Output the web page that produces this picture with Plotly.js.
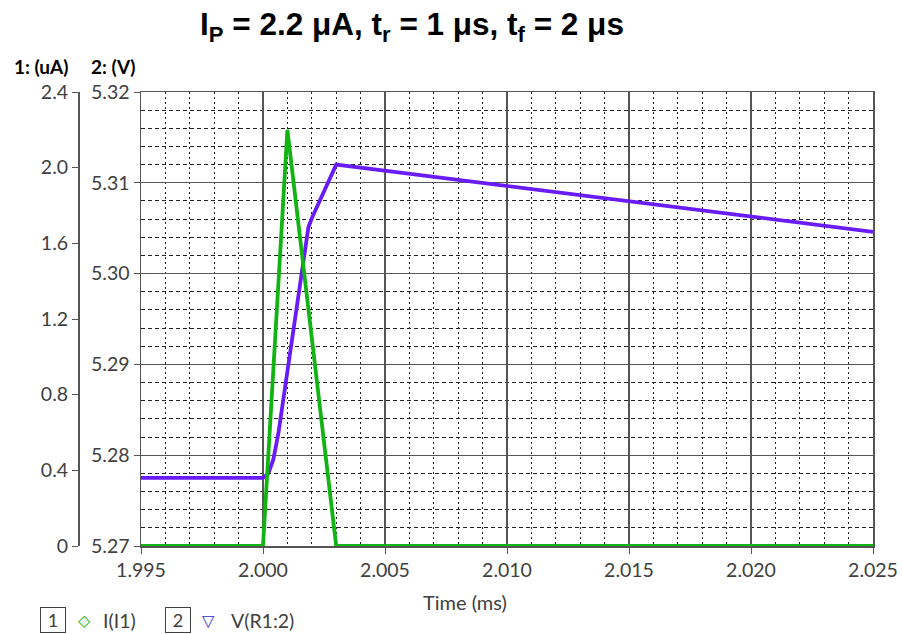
<!DOCTYPE html>
<html>
<head>
<meta charset="utf-8">
<script src="https://cdn.plot.ly/plotly-3.0.1.min.js"></script>
<style>html,body{margin:0;padding:0;background:#fff;}#chart{width:903px;height:634px;}</style>
</head>
<body>
<div id="chart"></div>
<script>
// ---- data ----
const iTime = [1.995, 2.000, 2.001, 2.003, 2.025];
const iCurrent = [0, 0, 2.2, 0, 0];           // uA
const vTime = [1.995, 2.000, 2.00022, 2.00042, 2.00063, 2.00083, 2.00104, 2.00145, 2.00186, 2.002, 2.003, 2.025];
const vVolt = [5.2775, 5.2775, 5.2780, 5.2795, 5.2824, 5.2861, 5.2905, 5.2979, 5.3051, 5.3061, 5.3120, 5.3046]; // V
const xTickVals = [1.995, 2.000, 2.005, 2.010, 2.015, 2.020, 2.025];
const xTickText = ["1.995", "2.000", "2.005", "2.010", "2.015", "2.020", "2.025"];
const iTickVals = [0, 0.4, 0.8, 1.2, 1.6, 2.0, 2.4];
const iTickText = ["0", "0.4", "0.8", "1.2", "1.6", "2.0", "2.4"];
const vTickVals = [5.27, 5.28, 5.29, 5.30, 5.31, 5.32];
const vTickText = ["5.27", "5.28", "5.29", "5.30", "5.31", "5.32"];

// ---- layout geometry (pixels) ----
const W = 903, H = 634, ML = 10, MR = 30, MT = 92, MB = 88;
const PW = W - ML - MR, PH = H - MT - MB;
const px = x => (x - ML) / PW;
const py = y => (H - MB - y) / PH;

const FAM = "Lato, 'Noto Sans', sans-serif";
const tickFont = {family: FAM, size: 19.5, color: "#404040"};
const GREEN = "#12b412", PURPLE = "#6a1cf8";

const traces = [
  {x: iTime, y: iCurrent, type: "scatter", mode: "lines", yaxis: "y2", name: "I(I1)",
   line: {color: GREEN, width: 3.8}, showlegend: false, hoverinfo: "x+y"},
  {x: vTime, y: vVolt, type: "scatter", mode: "lines", yaxis: "y", name: "V(R1:2)",
   line: {color: PURPLE, width: 3.8}, showlegend: false, hoverinfo: "x+y"}
];

function note(text, x, y, font, extra) {
  return Object.assign({text: text, xref: "paper", yref: "paper", x: px(x), y: py(y),
    xanchor: "center", yanchor: "middle", showarrow: false, font: font}, extra || {});
}

const layout = {
  width: W, height: H,
  margin: {l: ML, r: MR, t: MT, b: MB, pad: 0},
  paper_bgcolor: "#ffffff", plot_bgcolor: "#ffffff",
  showlegend: false,
  title: {
    text: "I<sub>P</sub> = 2.2 μA, t<sub>r</sub> = 1 μs, t<sub>f</sub> = 2 μs",
    font: {family: "'Liberation Sans', Arial, sans-serif", size: 31.5, color: "#000", weight: "bold"},
    xref: "container", yref: "container", x: 412 / W, y: 1 - 24 / H, xanchor: "center", yanchor: "middle"
  },
  xaxis: {
    domain: [px(141), 1], range: [1.995, 2.025],
    tickvals: xTickVals, ticktext: xTickText, tickfont: tickFont,
    showline: true, linecolor: "#555", linewidth: 1.5, mirror: true,
    ticks: "outside", ticklen: 6, tickcolor: "#555",
    showgrid: true, gridcolor: "#555", gridwidth: 1.2,
    minor: {dtick: 0.001, showgrid: true, gridcolor: "#222", gridwidth: 1, griddash: "2px,3px", ticks: ""},
    zeroline: false
  },
  yaxis: {
    range: [5.27, 5.32], anchor: "x", side: "left",
    tickvals: vTickVals, ticktext: vTickText, tickfont: tickFont,
    showline: true, linecolor: "#555", linewidth: 1.5, mirror: true,
    ticks: "outside", ticklen: 6, tickcolor: "#555",
    showgrid: true, gridcolor: "#555", gridwidth: 1.2,
    minor: {dtick: 0.002, showgrid: true, gridcolor: "#222", gridwidth: 1, griddash: "4px,3px", ticks: ""},
    zeroline: false
  },
  yaxis2: {
    range: [0, 2.4], overlaying: "y", anchor: "free", position: px(78), side: "left",
    tickvals: iTickVals, ticktext: iTickText, tickfont: tickFont,
    showline: true, linecolor: "#555", linewidth: 1.5,
    ticks: "outside", ticklen: 6, tickcolor: "#555",
    showgrid: false, zeroline: false
  },
  annotations: [
    note("<b>1: (uA)</b>", 41, 66, {family: FAM, size: 19, color: "#000"}),
    note("<b>2: (V)</b>", 113, 66, {family: FAM, size: 19, color: "#000"}),
    note("Time (ms)", 465, 602, {family: FAM, size: 20, color: "#404040"}),
    note("1", 53, 620, {family: FAM, size: 18, color: "#404040"},
         {bordercolor: "#404040", borderwidth: 1, borderpad: 2, width: 20, height: 20}),
    note("<b>◇</b>", 84, 620, {family: "'DejaVu Sans', sans-serif", size: 16, color: GREEN}),
    note("I(I1)", 101, 620, {family: FAM, size: 19.5, color: "#404040"}, {xanchor: "left"}),
    note("2", 178, 620, {family: FAM, size: 18, color: "#404040"},
         {bordercolor: "#404040", borderwidth: 1, borderpad: 2, width: 20, height: 20}),
    note("<b>▽</b>", 208, 620, {family: "'DejaVu Sans', sans-serif", size: 16, color: "#3030d0"}),
    note("V(R1:2)", 229, 620, {family: FAM, size: 19.5, color: "#404040"}, {xanchor: "left"})
  ]
};

Plotly.newPlot("chart", traces, layout, {displayModeBar: false, staticPlot: true});
</script>
</body>
</html>
